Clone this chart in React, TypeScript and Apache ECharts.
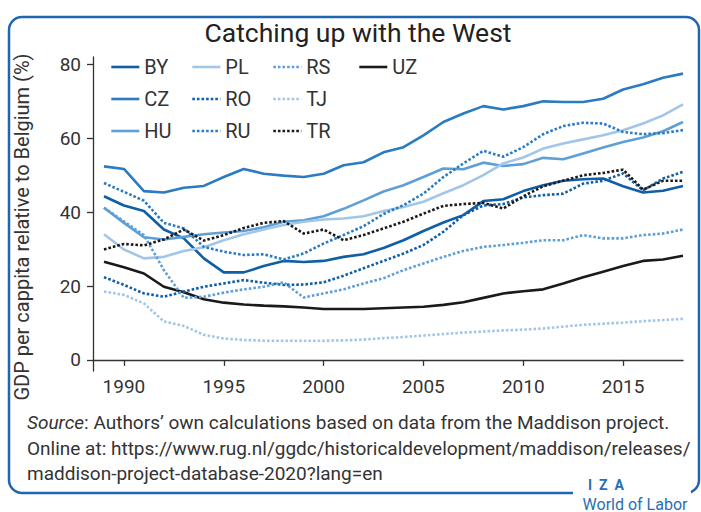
import React, { useEffect, useRef } from "react";
import * as echarts from "echarts";

const years = [1989, 1990, 1991, 1992, 1993, 1994, 1995, 1996, 1997, 1998, 1999, 2000, 2001, 2002, 2003, 2004, 2005, 2006, 2007, 2008, 2009, 2010, 2011, 2012, 2013, 2014, 2015, 2016, 2017, 2018];

const BY = [44.3, 41.8, 40.3, 35.3, 32.9, 27.5, 23.7, 23.7, 25.4, 26.8, 26.5, 26.8, 27.9, 28.6, 30.3, 32.4, 34.9, 37.2, 39.2, 43.0, 43.5, 45.7, 47.3, 48.5, 48.9, 49.1, 47.0, 45.3, 45.8, 47.1];
const CZ = [52.4, 51.7, 45.7, 45.3, 46.6, 47.1, 49.5, 51.7, 50.4, 49.9, 49.5, 50.4, 52.7, 53.5, 56.2, 57.6, 60.8, 64.4, 66.7, 68.7, 67.8, 68.7, 70.0, 69.8, 69.8, 70.7, 73.2, 74.6, 76.4, 77.5];
const HU = [41.2, 37.1, 33.2, 32.6, 33.3, 34.0, 34.5, 34.9, 35.9, 37.4, 37.8, 38.9, 40.9, 43.2, 45.6, 47.3, 49.5, 51.8, 51.6, 53.4, 52.5, 53.0, 54.7, 54.3, 55.9, 57.5, 59.0, 60.2, 61.9, 64.4];
const PL = [34.0, 29.9, 27.5, 27.9, 29.5, 30.5, 32.4, 34.0, 35.3, 36.5, 37.4, 38.0, 38.3, 38.9, 40.3, 41.4, 42.8, 45.1, 47.3, 50.0, 53.2, 54.8, 57.2, 58.6, 59.7, 60.8, 62.2, 64.0, 66.2, 69.2];
const RO = [22.4, 20.3, 18.0, 17.1, 18.5, 19.8, 20.7, 21.6, 20.9, 20.3, 20.4, 21.0, 22.8, 24.8, 26.8, 28.8, 31.1, 34.7, 39.2, 41.8, 42.2, 44.0, 44.6, 45.0, 47.7, 48.5, 50.5, 45.9, 49.1, 50.9];
const RU = [47.9, 45.5, 43.1, 37.1, 35.6, 30.6, 29.3, 28.4, 28.6, 27.2, 28.8, 31.5, 33.8, 36.2, 39.5, 41.9, 45.0, 49.5, 53.2, 56.6, 55.0, 57.6, 61.1, 63.3, 64.2, 64.0, 61.7, 61.1, 61.4, 62.2];
const RS = [41.2, 37.5, 33.8, 24.3, 16.8, 17.1, 18.2, 19.1, 19.8, 21.0, 16.9, 18.0, 19.1, 20.7, 22.1, 24.3, 26.1, 27.9, 29.5, 30.6, 31.1, 31.7, 32.4, 32.4, 33.8, 32.9, 32.9, 33.8, 34.2, 35.3];
const TJ = [18.5, 17.6, 15.3, 10.4, 9.2, 6.8, 5.8, 5.4, 5.2, 5.2, 5.2, 5.2, 5.3, 5.5, 5.9, 6.2, 6.6, 7.0, 7.4, 7.7, 8.0, 8.2, 8.5, 9.0, 9.5, 9.8, 10.1, 10.5, 10.8, 11.1];
const TR = [29.9, 31.4, 31.0, 32.6, 35.3, 32.3, 33.8, 35.7, 37.1, 37.6, 34.2, 35.3, 32.4, 33.8, 35.6, 37.4, 39.6, 41.7, 42.2, 42.5, 41.0, 44.3, 47.0, 48.5, 50.0, 50.6, 51.5, 46.1, 48.5, 48.5];
const UZ = [26.6, 25.1, 23.4, 19.8, 18.3, 16.4, 15.5, 15.0, 14.7, 14.5, 14.2, 13.8, 13.8, 13.8, 14.0, 14.2, 14.4, 14.9, 15.6, 16.8, 18.0, 18.6, 19.1, 20.7, 22.4, 23.9, 25.4, 26.8, 27.2, 28.2];

const xTicks = [1990, 1995, 2000, 2005, 2010, 2015];
const yTicks = [0, 20, 40, 60, 80];

const FONT = "'Roboto', sans-serif";
const DARK = "#0f5ea8";
const MID = "#2a7bc2";
const LIGHT = "#5e9fd6";
const PALE = "#a2c6e8";
const BLACK = "#1a1a1a";
const DOT = [2.6, 2];

const seriesDefs: [string, number[], string, boolean][] = [
  ["BY", BY, DARK, false],
  ["CZ", CZ, MID, false],
  ["HU", HU, LIGHT, false],
  ["PL", PL, PALE, false],
  ["RO", RO, DARK, true],
  ["RU", RU, MID, true],
  ["RS", RS, LIGHT, true],
  ["TJ", TJ, PALE, true],
  ["TR", TR, BLACK, true],
  ["UZ", UZ, BLACK, false],
];

const legendCols = [
  ["BY", "CZ", "HU"],
  ["PL", "RO", "RU"],
  ["RS", "TJ", "TR"],
  ["UZ"],
];
const legendLeft = [110, 191, 272, 358];

export default function App() {
  const ref = useRef<HTMLDivElement>(null);
  useEffect(() => {
    if (!ref.current) return;
    const chart = echarts.init(ref.current, null, { renderer: "svg" });
    const dottedSet = new Set(seriesDefs.filter((d) => d[3]).map((d) => d[0]));
    const series = seriesDefs.map(([name, vals, color, dotted]) => ({
      name,
      type: "line",
      symbol: "none",
      data: years.map((y, i) => [y, vals[i]]),
      lineStyle: { color, width: 2.6, type: dotted ? DOT : "solid" },
      itemStyle: { color },
      z: dotted ? 3 : 2,
    }));
    chart.setOption({
      animation: false,
      textStyle: { fontFamily: FONT },
      grid: { left: 93, right: 18, top: 57, bottom: 141 },
      xAxis: {
        type: "value",
        min: 1988.45,
        max: 2018,
        splitLine: { show: false },
        axisLine: { lineStyle: { color: "#333", width: 1.3 } },
        axisTick: { show: true, customValues: xTicks, length: 6, lineStyle: { color: "#333", width: 1.3 } },
        axisLabel: {
          customValues: xTicks,
          formatter: (v: number) => String(v),
          color: "#333",
          fontSize: 19,
          fontFamily: FONT,
          margin: 6,
        },
      },
      yAxis: {
        type: "value",
        min: -3,
        max: 82,
        splitLine: { show: false },
        axisLine: { show: true, lineStyle: { color: "#333", width: 1.3 } },
        axisTick: { show: true, customValues: yTicks, length: 6, lineStyle: { color: "#333", width: 1.3 } },
        axisLabel: { customValues: yTicks, formatter: (v: number) => String(v), color: "#333", fontSize: 19, fontFamily: FONT, margin: 12 },
      },
      legend: legendCols.map((col, i) => ({
        data: col.map((n) => (dottedSet.has(n) ? { name: n, lineStyle: { type: DOT, width: 2.6 } } : { name: n, lineStyle: { width: 2.6 } })),
        orient: "vertical",
        left: legendLeft[i],
        top: 57,
        padding: 0,
        itemWidth: 28,
        itemHeight: 20,
        itemGap: 12,
        itemStyle: { opacity: 0 },
        textStyle: { color: "#333", fontSize: 20, fontFamily: FONT },
      })),
      graphic: [
        {
          type: "rect",
          shape: { x: 9, y: 17, width: 690, height: 476, r: 13 },
          style: { fill: "none", stroke: "#2065b0", lineWidth: 2.5 },
          silent: true,
        },
        {
          type: "rect",
          shape: { x: 573, y: 486, width: 118, height: 26 },
          style: { fill: "#fff" },
          silent: true,
        },
        {
          type: "text",
          x: 358,
          y: 32,
          style: { text: "Catching up with the West", font: `26.5px ${FONT}`, fill: "#222", align: "center", verticalAlign: "middle" },
        },
        {
          type: "text",
          x: 22,
          y: 227,
          rotation: Math.PI / 2,
          style: { text: "GDP per cappita relative to Belgium (%)", font: `20px ${FONT}`, fill: "#333", align: "center", verticalAlign: "middle" },
        },
        {
          type: "text",
          x: 27,
          y: 410,
          style: {
            text: "{i|Source}: Authors’ own calculations based on data from the Maddison project.\nOnline at: https://www.rug.nl/ggdc/historicaldevelopment/maddison/releases/\nmaddison-project-database-2020?lang=en",
            font: `19px ${FONT}`,
            fill: "#333",
            lineHeight: 25.5,
            rich: { i: { fontStyle: "italic", fontSize: 19, fontFamily: FONT, fill: "#333" } },
          },
        },
        {
          type: "text",
          x: 606,
          y: 485,
          style: { text: "I  Z  A", font: `bold 14px ${FONT}`, fill: "#2a6db5", align: "center", verticalAlign: "middle" },
        },
        {
          type: "text",
          x: 635,
          y: 504,
          style: { text: "World of Labor", font: `16px ${FONT}`, fill: "#2a6db5", align: "center", verticalAlign: "middle" },
        },
      ],
      series,
    });
    return () => chart.dispose();
  }, []);
  return <div ref={ref} style={{ width: 701, height: 512, position: "absolute", left: 0, top: 0 }} />;
}
